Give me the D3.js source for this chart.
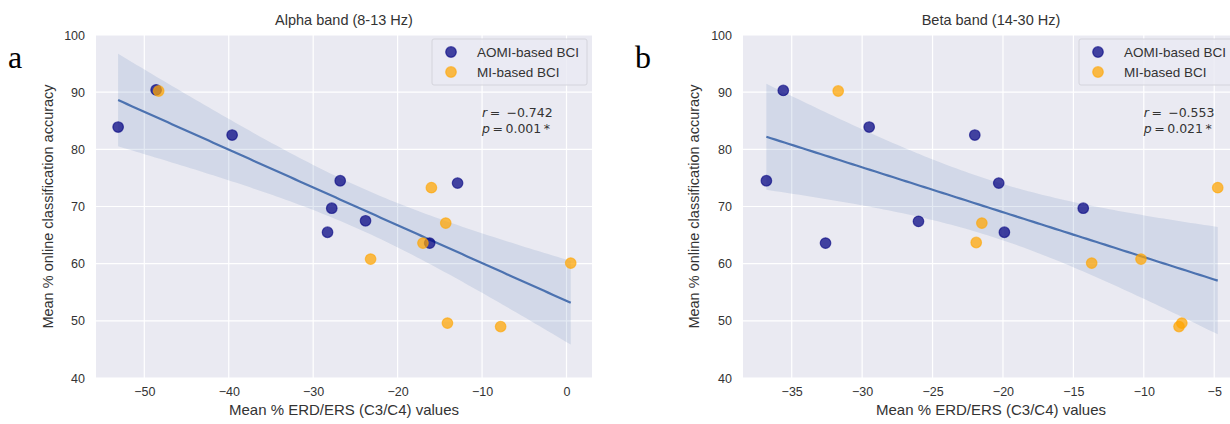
<!DOCTYPE html>
<html><head><meta charset="utf-8">
<script src="https://cdn.jsdelivr.net/npm/d3@7"></script>
<style>body{margin:0;background:#fff}svg{display:block}</style>
</head><body>
<svg id="c" width="1230" height="424"></svg>
<script>
// ---- data ----
const yTicks = [40, 50, 60, 70, 80, 90, 100];
const alphaTicks = [-50, -40, -30, -20, -10, 0];
const betaTicks = [-35, -30, -25, -20, -15, -10, -5];
const seriesNames = ["AOMI-based BCI", "MI-based BCI"];

const alphaAOMI_x = [-53.1, -48.6, -39.6, -26.8, -27.8, -28.3, -23.8, -12.9, -16.2];
const alphaAOMI_y = [83.9, 90.4, 82.5, 74.5, 69.7, 65.5, 67.5, 74.1, 63.6];
const alphaMI_x = [-48.3, -16.0, -14.3, -17.0, -23.2, -14.1, -7.8, 0.5];
const alphaMI_y = [90.2, 73.3, 67.1, 63.6, 60.8, 49.6, 49.0, 60.1];

const betaAOMI_x = [-36.8, -35.6, -29.5, -32.6, -26.0, -22.0, -20.3, -19.9, -14.3];
const betaAOMI_y = [74.5, 90.3, 83.9, 63.6, 67.4, 82.5, 74.1, 65.5, 69.7];
const betaMI_x = [-31.7, -21.5, -21.9, -13.7, -10.2, -7.3, -7.5, -4.75];
const betaMI_y = [90.2, 67.1, 63.7, 60.1, 60.8, 49.6, 49.0, 73.3];

const titles = ["Alpha band (8-13 Hz)", "Beta band (14-30 Hz)"];
const rVals = ["\u22120.742", "\u22120.553"];
const pVals = ["0.001", "0.021"];
const letters = ["a", "b"];

// ---- drawing ----
const svg = d3.select("#c");
const colors = ["navy", "orange"];
const lineColor = "#4c72b0";
const textColor = "#333";
const sans = "Liberation Sans, Arial, sans-serif";

const panels = [
  {x0: 96, x1: 592, xdom: [-55.72, 3.02], ticks: alphaTicks,
   a: [alphaAOMI_x, alphaAOMI_y], m: [alphaMI_x, alphaMI_y], letterX: 8, ylabX: 53},
  {x0: 743, x1: 1239, xdom: [-38.46, -3.24], ticks: betaTicks,
   a: [betaAOMI_x, betaAOMI_y], m: [betaMI_x, betaMI_y], letterX: 635, ylabX: 699}
];
const y0 = 35, y1 = 378;

// t quantile 0.975 for df=15
const tq = 2.131;

panels.forEach((p, i) => {
  const x = d3.scaleLinear().domain(p.xdom).range([p.x0, p.x1]);
  const y = d3.scaleLinear().domain([40, 100]).range([y1, y0]);
  const g = svg.append("g");
  const clipId = "clip" + i;
  svg.append("clipPath").attr("id", clipId).append("rect")
    .attr("x", p.x0).attr("y", y0).attr("width", p.x1 - p.x0).attr("height", y1 - y0);

  g.append("rect").attr("x", p.x0).attr("y", y0).attr("width", p.x1 - p.x0)
    .attr("height", y1 - y0).attr("fill", "#eaeaf2");

  // grid
  g.selectAll(".gx").data(p.ticks).join("line")
    .attr("x1", d => x(d)).attr("x2", d => x(d)).attr("y1", y0).attr("y2", y1)
    .attr("stroke", "#fff").attr("stroke-width", 1.2);
  g.selectAll(".gy").data(yTicks).join("line")
    .attr("x1", p.x0).attr("x2", p.x1).attr("y1", d => y(d)).attr("y2", d => y(d))
    .attr("stroke", "#fff").attr("stroke-width", 1.2);

  // axes (labels only)
  const xa = g.append("g").attr("transform", `translate(0,${y1})`)
    .call(d3.axisBottom(x).tickValues(p.ticks).tickSize(0).tickPadding(9).tickFormat(d3.format("d")));
  xa.select(".domain").remove();
  xa.selectAll("text").attr("font-family", sans).attr("font-size", 12.5).attr("fill", textColor);
  const ya = g.append("g").attr("transform", `translate(${p.x0},0)`)
    .call(d3.axisLeft(y).tickValues(yTicks).tickSize(0).tickPadding(11));
  ya.select(".domain").remove();
  ya.selectAll("text").attr("font-family", sans).attr("font-size", 12.5).attr("fill", textColor);

  // regression
  const xs = p.a[0].concat(p.m[0]);
  const ys = p.a[1].concat(p.m[1]);
  const n = xs.length;
  const mx = d3.mean(xs), my = d3.mean(ys);
  let sxx = 0, sxy = 0;
  xs.forEach((v, k) => { sxx += (v - mx) ** 2; sxy += (v - mx) * (ys[k] - my); });
  const b = sxy / sxx, a0 = my - b * mx;
  let sse = 0;
  xs.forEach((v, k) => { sse += (ys[k] - (a0 + b * v)) ** 2; });
  const s = Math.sqrt(sse / (n - 2));
  const ext = d3.extent(xs);
  const grid = d3.range(0, 101).map(k => ext[0] + (ext[1] - ext[0]) * k / 100);
  const band = grid.map(v => {
    const h = tq * s * Math.sqrt(1 / n + (v - mx) ** 2 / sxx);
    const yh = a0 + b * v;
    return {x: v, lo: yh - h, hi: yh + h, y: yh};
  });
  const gc = g.append("g").attr("clip-path", `url(#${clipId})`);
  gc.append("path").datum(band)
    .attr("d", d3.area().x(d => x(d.x)).y0(d => y(d.lo)).y1(d => y(d.hi)))
    .attr("fill", lineColor).attr("fill-opacity", 0.15);
  gc.append("path").datum(band)
    .attr("d", d3.line().x(d => x(d.x)).y(d => y(d.y)))
    .attr("fill", "none").attr("stroke", lineColor).attr("stroke-width", 2.2);

  // points
  [p.a, p.m].forEach((ser, si) => {
    gc.selectAll(null).data(d3.range(ser[0].length)).join("circle")
      .attr("cx", k => x(ser[0][k])).attr("cy", k => y(ser[1][k])).attr("r", 5.3)
      .attr("fill", colors[si]).attr("fill-opacity", 0.72)
      .attr("stroke", colors[si]).attr("stroke-opacity", 0.6).attr("stroke-width", 1.2);
  });

  const cx = p.x0 + (p.x1 - p.x0 - (i === 1 ? 0 : 0)) / 2;
  // title
  svg.append("text").attr("x", p.x0 + 248).attr("y", 25)
    .attr("text-anchor", "middle").attr("font-family", sans)
    .attr("font-size", 14.5).attr("fill", textColor).text(titles[i]);
  // x label
  svg.append("text").attr("x", p.x0 + 248).attr("y", 415)
    .attr("text-anchor", "middle").attr("font-family", sans)
    .attr("font-size", 15).attr("fill", textColor).text("Mean % ERD/ERS (C3/C4) values");
  // y label
  svg.append("text").attr("transform", `translate(${p.ylabX},${(y0 + y1) / 2}) rotate(-90)`)
    .attr("text-anchor", "middle").attr("font-family", sans)
    .attr("font-size", 14.5).attr("fill", textColor).text("Mean % online classification accuracy");
  // panel letter
  svg.append("text").attr("x", p.letterX).attr("y", 68)
    .attr("font-family", "Liberation Serif, Times New Roman, serif")
    .attr("font-size", 32).attr("fill", "#000").text(letters[i]);

  // legend
  const lx = p.x1 - 160, ly = y0 + 4;
  svg.append("rect").attr("x", lx).attr("y", ly).attr("width", 155).attr("height", 46)
    .attr("fill", "#eaeaf2").attr("fill-opacity", 0.8).attr("stroke", "#d4d4dc").attr("rx", 2)
    .attr("clip-path", `url(#${clipId})`);
  seriesNames.forEach((nm, si) => {
    svg.append("circle").attr("cx", lx + 19).attr("cy", ly + 13 + si * 20).attr("r", 5.3)
      .attr("fill", colors[si]).attr("fill-opacity", 0.72)
      .attr("stroke", colors[si]).attr("stroke-opacity", 0.6).attr("stroke-width", 1.2);
    svg.append("text").attr("x", lx + 45).attr("y", ly + 18 + si * 20)
      .attr("font-family", sans).attr("font-size", 13.5)
      .attr("fill", textColor).text(nm);
  });

  // stats annotation
  const ax = x(-10), ay = y(85.6);
  const t1 = svg.append("text").attr("x", ax).attr("y", ay)
    .attr("font-family", "DejaVu Sans, sans-serif").attr("font-size", 12.5).attr("fill", textColor);
  t1.append("tspan").attr("font-style", "italic").text("r");
  t1.append("tspan").text("\u2009=\u2002" + rVals[i]);
  const t2 = svg.append("text").attr("x", ax).attr("y", ay + 16)
    .attr("font-family", "DejaVu Sans, sans-serif").attr("font-size", 12.5).attr("fill", textColor);
  t2.append("tspan").attr("font-style", "italic").text("p");
  t2.append("tspan").text("\u2009=\u2009" + pVals[i] + "\u2009*");
});
</script>
</body></html>
